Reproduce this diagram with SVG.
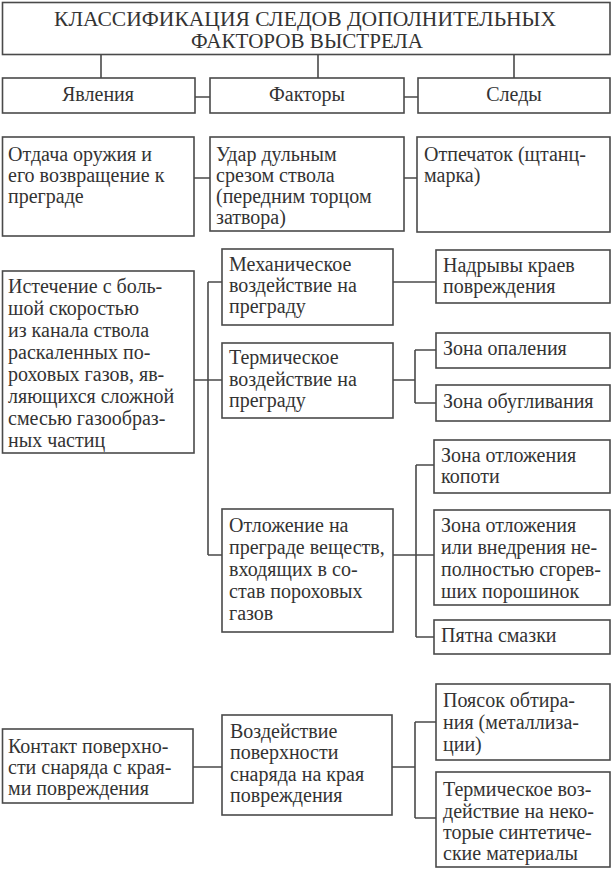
<svg xmlns="http://www.w3.org/2000/svg" width="612" height="869" viewBox="0 0 612 869">
<style>
  .box { fill: #fff; stroke: #4a4a4a; stroke-width: 1.6; }
  .con { fill: none; stroke: #4a4a4a; stroke-width: 1.6; }
  text { font-family: "Liberation Serif", "Times New Roman", serif; font-size: 20px; fill: #333; }
  .c { text-anchor: middle; }
</style>
<rect width="612" height="869" fill="#fff"/>
<g id="connectors">
  <path class="con" d="M101 55V78M318 55V78M514 55V78"/>
  <path class="con" d="M195 97H210M404 97H418"/>
  <path class="con" d="M194 178H210M404 178H417"/>
  <path class="con" d="M194 380H222M208 282V555M208 282H222M208 555H222"/>
  <path class="con" d="M393 282H436"/>
  <path class="con" d="M393 380H415M415 350V403M415 350H436M415 403H436"/>
  <path class="con" d="M393 555H434M416 465V637M416 465H434M416 637H434"/>
  <path class="con" d="M193 767H222M392 767H415M415 722V818M415 722H436M415 818H436"/>
</g>
<g id="title">
  <rect class="box" x="2.5" y="2.5" width="607.5" height="52"/>
  <text class="c" x="305" y="26" textLength="502" lengthAdjust="spacingAndGlyphs">КЛАССИФИКАЦИЯ СЛЕДОВ ДОПОЛНИТЕЛЬНЫХ</text>
  <text class="c" x="307" y="48" textLength="232" lengthAdjust="spacingAndGlyphs">ФАКТОРОВ ВЫСТРЕЛА</text>
</g>
<g id="yavleniya">
  <rect class="box" x="2.5" y="78" width="192.5" height="35"/>
  <text class="c" x="98" y="101">Явления</text>
</g>
<g id="faktory">
  <rect class="box" x="210" y="78" width="194" height="35"/>
  <text class="c" x="307" y="101">Факторы</text>
</g>
<g id="sledy">
  <rect class="box" x="418" y="78" width="192" height="35"/>
  <text class="c" x="514" y="101">Следы</text>
</g>
<g id="otdacha">
  <rect class="box" x="2.5" y="137" width="191.5" height="99"/>
  <text x="8" y="161">Отдача оружия и</text>
  <text x="8" y="182">его возвращение к</text>
  <text x="8" y="203">преграде</text>
</g>
<g id="udar">
  <rect class="box" x="210" y="137" width="194" height="94"/>
  <text x="216" y="161">Удар дульным</text>
  <text x="216" y="182">срезом ствола</text>
  <text x="216" y="203">(передним торцом</text>
  <text x="216" y="224">затвора)</text>
</g>
<g id="otpechatok">
  <rect class="box" x="417" y="137" width="193" height="95"/>
  <text x="424" y="161">Отпечаток (щтанц-</text>
  <text x="424" y="182">марка)</text>
</g>
<g id="istechenie">
  <rect class="box" x="2.5" y="271" width="191.5" height="182"/>
  <text x="8" y="293">Истечение с боль-</text>
  <text x="8" y="315">шой скоростью</text>
  <text x="8" y="337">из канала ствола</text>
  <text x="8" y="359">раскаленных по-</text>
  <text x="8" y="381">роховых газов, яв-</text>
  <text x="8" y="403">ляющихся сложной</text>
  <text x="8" y="425">смесью газообраз-</text>
  <text x="8" y="447">ных частиц</text>
</g>
<g id="mekhanicheskoe">
  <rect class="box" x="222" y="249" width="171" height="76"/>
  <text x="229" y="271">Механическое</text>
  <text x="229" y="292">воздействие на</text>
  <text x="229" y="313">преграду</text>
</g>
<g id="termicheskoe">
  <rect class="box" x="222" y="343" width="171" height="75"/>
  <text x="229" y="364">Термическое</text>
  <text x="229" y="386">воздействие на</text>
  <text x="229" y="407">преграду</text>
</g>
<g id="otlozhenie">
  <rect class="box" x="222" y="509" width="171" height="123"/>
  <text x="229" y="532">Отложение на</text>
  <text x="229" y="554">преграде веществ,</text>
  <text x="229" y="576">входящих в со-</text>
  <text x="229" y="598">став пороховых</text>
  <text x="229" y="620">газов</text>
</g>
<g id="nadryvy">
  <rect class="box" x="436" y="250" width="174" height="53"/>
  <text x="443" y="272">Надрывы краев</text>
  <text x="443" y="293">повреждения</text>
</g>
<g id="opalenie">
  <rect class="box" x="436" y="333" width="174" height="35"/>
  <text x="443" y="355">Зона опаления</text>
</g>
<g id="obuglivanie">
  <rect class="box" x="436" y="385" width="174" height="36"/>
  <text x="443" y="408">Зона обугливания</text>
</g>
<g id="kopot">
  <rect class="box" x="434" y="440" width="176" height="53"/>
  <text x="441" y="462">Зона отложения</text>
  <text x="441" y="483">копоти</text>
</g>
<g id="poroshinki">
  <rect class="box" x="434" y="510" width="176" height="95"/>
  <text x="441" y="532">Зона отложения</text>
  <text x="441" y="554">или внедрения не-</text>
  <text x="441" y="576">полностью сгорев-</text>
  <text x="441" y="598">ших порошинок</text>
</g>
<g id="smazka">
  <rect class="box" x="434" y="620" width="176" height="34"/>
  <text x="441" y="642">Пятна смазки</text>
</g>
<g id="kontakt">
  <rect class="box" x="2.5" y="729" width="190.5" height="74"/>
  <text x="8" y="753">Контакт поверхно-</text>
  <text x="8" y="774">сти снаряда с края-</text>
  <text x="8" y="795">ми повреждения</text>
</g>
<g id="vozdeystvie">
  <rect class="box" x="222" y="715" width="170" height="100"/>
  <text x="230" y="738">Воздействие</text>
  <text x="230" y="759">поверхности</text>
  <text x="230" y="781">снаряда на края</text>
  <text x="230" y="802">повреждения</text>
</g>
<g id="poyasok">
  <rect class="box" x="436" y="684" width="174" height="76"/>
  <text x="443" y="707">Поясок обтира-</text>
  <text x="443" y="729">ния (металлиза-</text>
  <text x="443" y="751">ции)</text>
</g>
<g id="sintetika">
  <rect class="box" x="436" y="772" width="174" height="95"/>
  <text x="443" y="796">Термическое воз-</text>
  <text x="443" y="818">действие на неко-</text>
  <text x="443" y="839">торые синтетиче-</text>
  <text x="443" y="860">ские материалы</text>
</g>
</svg>
